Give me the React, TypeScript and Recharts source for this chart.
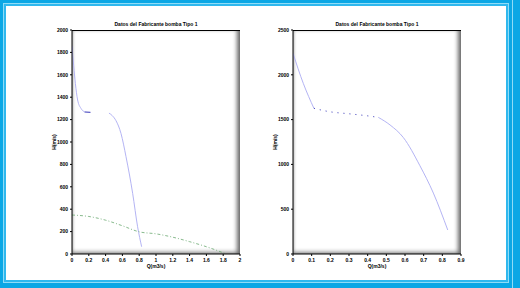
import { Line, LineChart, XAxis, YAxis } from "recharts";

// Left chart (Q 0..2, H 0..2000)
const leftXTicks = [0, 0.2, 0.4, 0.6, 0.8, 1, 1.2, 1.4, 1.6, 1.8, 2];
const leftYTicks = [0, 200, 400, 600, 800, 1000, 1200, 1400, 1600, 1800, 2000];

const leftUpperQ = [0, 0.02, 0.04, 0.067, 0.107, 0.15];
const leftUpperH = [1860, 1680, 1524, 1375, 1300, 1268];
const leftFlatQ = [0.15, 0.22];
const leftFlatH = [1268, 1265];
const leftLowerQ = [0.44, 0.48, 0.524, 0.583, 0.643, 0.722, 0.781, 0.829];
const leftLowerH = [1258, 1235, 1190, 1077, 869, 542, 243, 65];
const systemQ = [0, 0.2, 0.4, 0.6, 0.8, 1, 1.2, 1.4, 1.6, 1.82];
const systemH = [348, 335, 302, 252, 198, 180, 150, 110, 65, 5];

// Right chart (Q 0..0.9, H 0..2500)
const rightXTicks = [0, 0.1, 0.2, 0.3, 0.4, 0.5, 0.6, 0.7, 0.8, 0.9];
const rightYTicks = [0, 500, 1000, 1500, 2000, 2500];

const rightUpperQ = [0, 0.055, 0.112];
const rightUpperH = [2240, 1905, 1626];
const rightDotsQ = [0.112, 0.196, 0.3, 0.395, 0.457];
const rightDotsH = [1626, 1588, 1565, 1543, 1525];
const rightLowerQ = [0.457, 0.52, 0.591, 0.68, 0.752, 0.829];
const rightLowerH = [1525, 1440, 1300, 985, 680, 268];

const title = "Datos del Fabricante bomba Tipo 1";
const xLabel = "Q(m3/s)";
const yLabel = "H(m/s)";

const pts = (q: number[], h: number[]) => q.map((v, i) => ({ q: v, h: h[i] }));

const font = "'Liberation Sans', Arial, sans-serif";
const tickStyle = { fontSize: 5, fill: "#000", fontFamily: font, fontWeight: "bold" };
const lightBlue = "#b4b4f4";
const darkBlue = "#3434b8";
const green = "#6aa870";

function PlotBox({ left, top, w, h }: { left: number; top: number; w: number; h: number }) {
  return (
    <div
      style={{
        position: "absolute",
        left,
        top,
        width: w,
        height: h,
        background: "#fff",
        borderTop: "1px solid #000",
        boxSizing: "border-box",
        boxShadow:
          "inset -5px 0 4px -2px #6a6a6a, inset 0 -4px 4px -2px #8a8a8a, inset 3px 0 3px -2px #aaa",
      }}
    />
  );
}

function Caption({ x, y, text }: { x: number; y: number; text: string }) {
  return (
    <div
      style={{
        position: "absolute",
        left: x - 60,
        top: y - 4,
        width: 120,
        textAlign: "center",
        fontFamily: font,
        fontSize: 5,
        fontWeight: "bold",
        lineHeight: "8px",
        color: "#000",
      }}
    >
      {text}
    </div>
  );
}

function YCaption({ x, y, text }: { x: number; y: number; text: string }) {
  return (
    <div
      style={{
        position: "absolute",
        left: x - 20,
        top: y - 4,
        width: 40,
        textAlign: "center",
        fontFamily: font,
        fontSize: 5,
        fontWeight: "bold",
        lineHeight: "8px",
        color: "#000",
        transform: "rotate(-90deg)",
      }}
    >
      {text}
    </div>
  );
}

export default function App() {
  return (
    <div style={{ position: "absolute", left: 0, top: 0, width: 520, height: 288, background: "#0ba7e5", overflow: "hidden" }}>
      <div
        style={{
          position: "absolute",
          left: 4,
          top: 4,
          width: 504,
          height: 278,
          boxSizing: "border-box",
          background: "#fff",
          border: "2px solid #2fb8ee",
          boxShadow: "0 0 0 1px #8fdcf7",
        }}
      />
      <div style={{ position: "absolute", left: 512, top: 0, width: 1, height: 288, background: "#8fdcf7" }} />

      <PlotBox left={72} top={30} w={168} h={224} />
      <PlotBox left={293} top={30} w={168} h={224} />

      <Caption x={156} y={24} text={title} />
      <Caption x={377} y={24} text={title} />
      <YCaption x={54} y={142} text={yLabel} />
      <YCaption x={275} y={142} text={yLabel} />

      <div style={{ position: "absolute", left: 0, top: 0 }}>
        <LineChart width={260} height={288} margin={{ top: 30, right: 20, bottom: 0, left: 0 }}>
          <XAxis
            dataKey="q"
            type="number"
            domain={[0, 2]}
            ticks={leftXTicks}
            allowDataOverflow
            height={34}
            tick={tickStyle}
            tickSize={2}
            stroke="#000"
            interval={0}
            label={{ value: xLabel, position: "insideBottom", offset: 20, style: tickStyle }}
          />
          <YAxis
            type="number"
            domain={[0, 2000]}
            ticks={leftYTicks}
            width={72}
            tick={tickStyle}
            tickSize={2}
            stroke="#000"
            interval={0}
          />
          <Line data={pts(leftUpperQ, leftUpperH)} type="monotone" dataKey="h" stroke={lightBlue} strokeWidth={1} dot={false} isAnimationActive={false} />
          <Line data={pts(leftFlatQ, leftFlatH)} type="monotone" dataKey="h" stroke={darkBlue} strokeWidth={1} dot={false} isAnimationActive={false} />
          <Line data={pts(leftLowerQ, leftLowerH)} type="monotone" dataKey="h" stroke={lightBlue} strokeWidth={1} dot={false} isAnimationActive={false} />
          <Line
            data={pts(systemQ, systemH)}
            type="monotone"
            dataKey="h"
            stroke={green}
            strokeWidth={0.8}
            strokeDasharray="3 2 1 2"
            dot={false}
            isAnimationActive={false}
          />
        </LineChart>
      </div>

      <div style={{ position: "absolute", left: 260, top: 0 }}>
        <LineChart width={260} height={288} margin={{ top: 30, right: 59, bottom: 0, left: 0 }}>
          <XAxis
            dataKey="q"
            type="number"
            domain={[0, 0.9]}
            ticks={rightXTicks}
            allowDataOverflow
            height={34}
            tick={tickStyle}
            tickSize={2}
            stroke="#000"
            interval={0}
            label={{ value: xLabel, position: "insideBottom", offset: 20, style: tickStyle }}
          />
          <YAxis
            type="number"
            domain={[0, 2500]}
            ticks={rightYTicks}
            width={33}
            tick={tickStyle}
            tickSize={2}
            stroke="#000"
            interval={0}
          />
          <Line data={pts(rightUpperQ, rightUpperH)} type="monotone" dataKey="h" stroke={lightBlue} strokeWidth={1} dot={false} isAnimationActive={false} />
          <Line
            data={pts(rightDotsQ, rightDotsH)}
            type="monotone"
            dataKey="h"
            stroke={darkBlue}
            strokeWidth={1}
            strokeDasharray="1 5"
            dot={false}
            isAnimationActive={false}
          />
          <Line data={pts(rightLowerQ, rightLowerH)} type="monotone" dataKey="h" stroke={lightBlue} strokeWidth={1} dot={false} isAnimationActive={false} />
        </LineChart>
      </div>
    </div>
  );
}
